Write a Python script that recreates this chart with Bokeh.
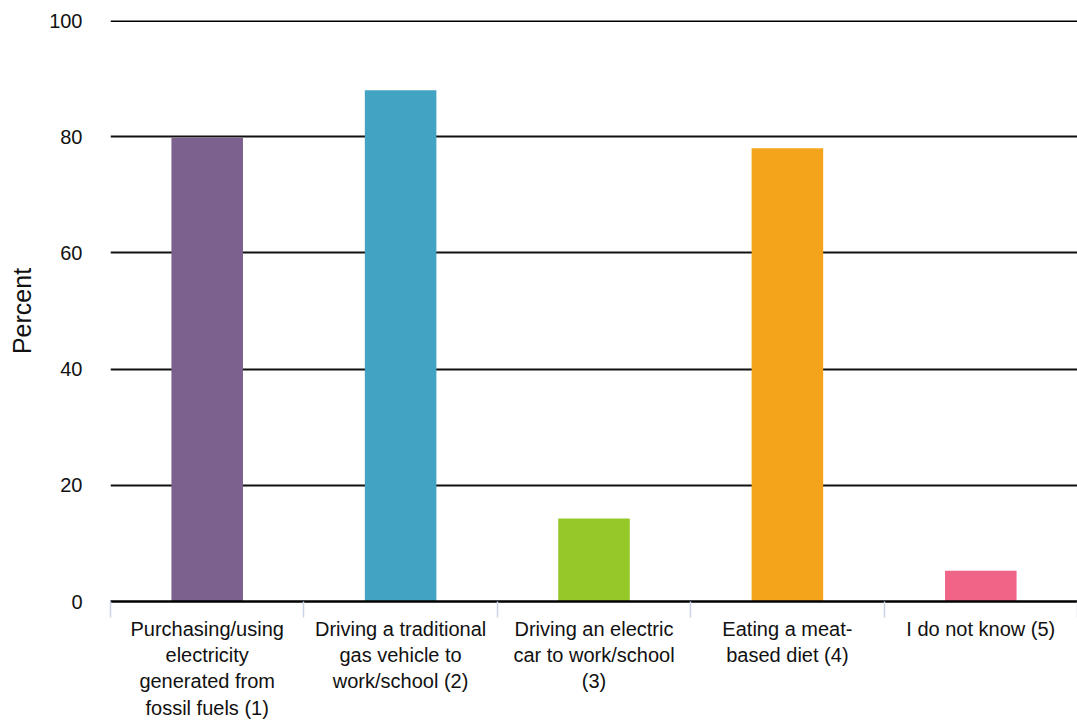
from bokeh.plotting import figure
from bokeh.models import Range1d, FixedTicker, ColumnDataSource, Span
from bokeh.embed import file_html
from bokeh.resources import INLINE

categories = [
    "Purchasing/using\nelectricity\ngenerated from\nfossil fuels (1)",
    "Driving a traditional\ngas vehicle to\nwork/school (2)",
    "Driving an electric\ncar to work/school\n(3)",
    "Eating a meat-\nbased diet (4)",
    "I do not know (5)",
]
values = [79.8, 88.0, 14.3, 78.0, 5.3]
colors = ["#7C618E", "#42A3C2", "#96C82A", "#F4A41B", "#F06587"]
y_ticks = [0, 20, 40, 60, 80, 100]

FONT = "Liberation Sans"

n = len(categories)
centers = [i + 0.5 for i in range(n)]
src = ColumnDataSource(dict(x=centers, val=values, color=colors))

p = figure(
    x_range=Range1d(0, n),
    y_range=Range1d(y_ticks[0], y_ticks[-1]),
    width=1077, height=721,
    output_backend="svg", toolbar_location=None,
    min_border_left=110, min_border_top=20, min_border_right=0, min_border_bottom=0,
)
p.outline_line_color = None
p.background_fill_color = "white"
p.border_fill_color = "white"

p.vbar(x="x", top="val", width=0.37, color="color", source=src, line_color=None)

# top gridline (Bokeh skips the grid line at the range end)
p.add_layout(Span(location=y_ticks[-1], dimension="width",
                  line_color="#000000", line_width=3))

xaxis = p.xaxis[0]
xaxis.ticker = FixedTicker(ticks=centers, minor_ticks=list(range(n + 1)))
xaxis.major_label_overrides = {c: lab for c, lab in zip(centers, categories)}
xaxis.axis_line_color = "#000000"
xaxis.axis_line_width = 2.5
xaxis.major_tick_line_color = None
xaxis.major_tick_out = 0
xaxis.major_tick_in = 0
xaxis.minor_tick_line_color = "#C9D4E6"
xaxis.minor_tick_line_width = 1.5
xaxis.minor_tick_out = 16
xaxis.minor_tick_in = 0
xaxis.major_label_standoff = 0
xaxis.major_label_text_font = FONT
xaxis.major_label_text_font_size = "20px"
xaxis.major_label_text_color = "#111111"
xaxis.major_label_text_line_height = 1.2

p.xgrid.visible = False
p.ygrid.grid_line_color = "#111111"
p.ygrid.grid_line_width = 2

yaxis = p.yaxis[0]
yaxis.ticker = FixedTicker(ticks=y_ticks)
yaxis.axis_line_color = None
yaxis.major_tick_line_color = None
yaxis.major_tick_out = 0
yaxis.major_tick_in = 0
yaxis.minor_tick_line_color = None
yaxis.major_label_standoff = 28
yaxis.major_label_text_font = FONT
yaxis.major_label_text_font_size = "20px"
yaxis.major_label_text_color = "#111111"
yaxis.axis_label = "Percent"
yaxis.axis_label_text_font = FONT
yaxis.axis_label_text_font_size = "25px"
yaxis.axis_label_text_font_style = "normal"
yaxis.axis_label_text_color = "#111111"
yaxis.axis_label_standoff = 10

open("out.html", "w").write(file_html(p, INLINE))
